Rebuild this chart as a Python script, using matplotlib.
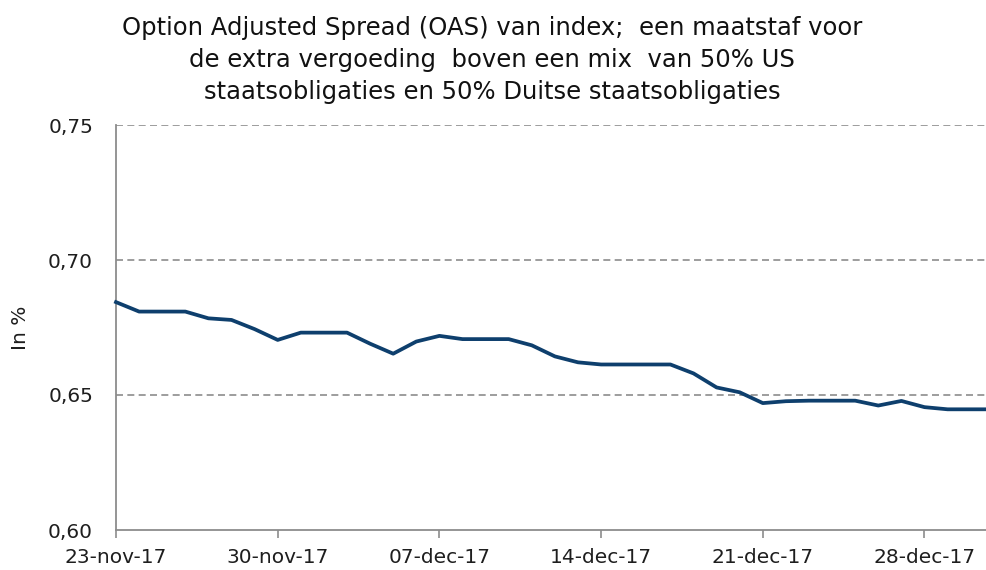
"""
OAS van index, nov-dec 2017 (lijngrafiek).
"""
import matplotlib
matplotlib.use("Agg")
import matplotlib.pyplot as plt
import matplotlib.dates as mdates
import matplotlib.ticker as mtick
import numpy as np
import pandas as pd

# --- Data ---
start = "2017-11-23"
oas = [
    0.6844, 0.6809, 0.6809, 0.6809, 0.6784, 0.6778, 0.6744, 0.6704,
    0.6731, 0.6731, 0.6731, 0.6690, 0.6653, 0.6698, 0.6719, 0.6707,
    0.6707, 0.6707, 0.6684, 0.6643, 0.6621, 0.6613, 0.6613, 0.6613,
    0.6613, 0.6580, 0.6528, 0.6510, 0.6470, 0.6477, 0.6479, 0.6479,
    0.6479, 0.6461, 0.6478, 0.6455, 0.6447, 0.6447, 0.6447,
]
dates = pd.date_range(start, periods=len(oas), freq="D")
tick_dates = pd.date_range(start, periods=6, freq="7D")
y_ticks = [0.60, 0.65, 0.70, 0.75]

title = ("Option Adjusted Spread (OAS) van index;  een maatstaf voor\n"
         "de extra vergoeding  boven een mix  van 50% US\n"
         "staatsobligaties en 50% Duitse staatsobligaties")

C_LINE = "#0E3F6D"
C_GRID = "#8C8C8C"
C_TEXT = "#1E1E1E"

plt.rcParams.update({
    "font.family": "DejaVu Sans",
    "font.size": 14,
    "figure.facecolor": "white",
})

fig = plt.figure(figsize=(9.87, 5.70), dpi=100)
ax = fig.add_axes([116 / 987, 1 - 530 / 570, 1 - 116 / 987, (530 - 125) / 570])

ax.plot(dates, oas, color=C_LINE, linewidth=2.7, solid_joinstyle="round",
        clip_on=False, zorder=3)

ax.set_ylim(0.60, 0.75)
ax.set_yticks(y_ticks)
ax.yaxis.set_major_formatter(mtick.FuncFormatter(lambda v, _: f"{v:.2f}".replace(".", ",")))
for v in y_ticks[1:]:
    ax.axhline(v, color=C_GRID, linewidth=1.2, linestyle=(0, (4.2, 2.6)), zorder=1)

x0 = mdates.date2num(pd.Timestamp(start))
ax.set_xlim(x0, x0 + (987 - 116) / 23.1)
ax.set_xticks(tick_dates)
ax.set_xticklabels([d.strftime("%d-") + d.strftime("%b").lower() + d.strftime("-%y")
                    for d in tick_dates])

for side in ["top", "right"]:
    ax.spines[side].set_visible(False)
for side in ["left", "bottom"]:
    ax.spines[side].set_color(C_GRID)
    ax.spines[side].set_linewidth(1.3)

ax.tick_params(axis="x", length=6, width=1.2, color=C_GRID, pad=7, labelsize=14.5,
               labelcolor=C_TEXT)
ax.tick_params(axis="y", length=0, pad=16.5, labelsize=14.5, labelcolor=C_TEXT)

ax.set_ylabel("In %", fontsize=14.5, color=C_TEXT)
ax.yaxis.set_label_coords(-(116 - 30) / 871, 0.5)

fig.text(0.4985, 0.972, title, ha="center", va="top", fontsize=17.5,
         linespacing=1.42, color="#111111")

fig.savefig("out.png", dpi=100)
